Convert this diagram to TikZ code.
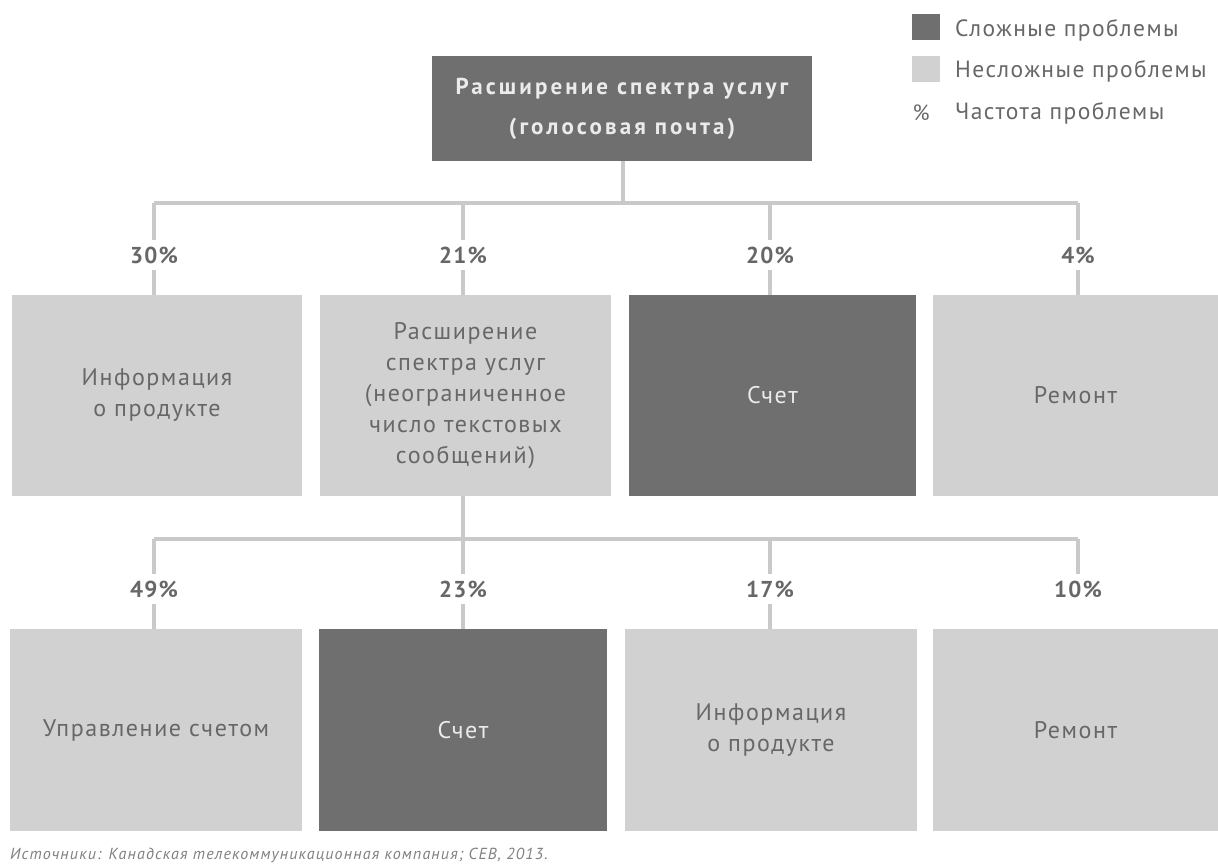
\documentclass[tikz,border=0pt]{standalone}
\usepackage{fontspec}
\setmainfont{PT Sans}
\newfontfamily\regfont[LetterSpace=6.5]{PT Sans}
\newfontfamily\legfont[LetterSpace=6]{PT Sans}
\newfontfamily\topfont[LetterSpace=13.5]{PT Sans}
\newfontfamily\pctfont[LetterSpace=5]{PT Sans}
\newfontfamily\footfont[LetterSpace=7.2]{PT Sans}
\definecolor{darkbox}{HTML}{6F6F6F}
\definecolor{lightbox}{HTML}{D1D1D1}
\definecolor{linecol}{HTML}{C9C9C9}
\definecolor{txtgray}{HTML}{676767}
\definecolor{txtlight}{HTML}{EBEBEB}
\definecolor{foot}{HTML}{808080}
\tikzset{
  hardbox/.style={fill=darkbox, draw=none, inner sep=0pt, align=center, text=txtlight, font=\regfont\fontsize{24}{31}\selectfont},
  easybox/.style={fill=lightbox, draw=none, inner sep=0pt, align=center, text=txtgray, font=\regfont\fontsize{24}{31}\selectfont},
  pct/.style={text=txtgray, font=\pctfont\bfseries\fontsize{23}{26}\selectfont, inner sep=0pt, minimum height=30pt},
  conn/.style={draw=linecol, line width=4pt},
  legtext/.style={anchor=west, text=txtgray, inner sep=0pt, font=\legfont\fontsize{23.5}{26}\selectfont},
}
\begin{document}
\begin{tikzpicture}[x=1pt,y=-1pt]
\useasboundingbox (0,0) rectangle (1218,867);
% legend
\node[fill=darkbox, minimum width=28pt, minimum height=26pt, inner sep=0pt] (lg1) at (926,27) {};
\node[fill=lightbox, minimum width=28pt, minimum height=26pt, inner sep=0pt] (lg2) at (926,69) {};
\node[text=txtgray, inner sep=0pt, font=\legfont\fontsize{22}{24}\selectfont] (lg3) at (921,113) {\%};
\node[legtext] (lt1) at (955,30) {Сложные проблемы};
\node[legtext] (lt2) at (955,71) {Несложные проблемы};
\node[legtext] (lt3) at (955,113) {Частота проблемы};
% top
\node[hardbox, minimum width=380pt, minimum height=105pt, font=\topfont\bfseries\fontsize{23}{40}\selectfont] (top) at (622,108.5) {Расширение спектра услуг\\(голосовая почта)};
% row 1
\node[easybox, minimum width=290pt, minimum height=201pt] (b1) at (157,395.5) {Информация\\о продукте};
\node[easybox, minimum width=291pt, minimum height=201pt] (b2) at (465.5,395.5) {Расширение\\спектра услуг\\(неограниченное\\число текстовых\\сообщений)};
\node[hardbox, minimum width=287pt, minimum height=201pt] (b3) at (772.5,395.5) {Счет};
\node[easybox, minimum width=285pt, minimum height=201pt] (b4) at (1075.5,395.5) {Ремонт};
% row 1 percents
\node[pct] (p1) at (154,255) {30\%};
\node[pct] (p2) at (463,255) {21\%};
\node[pct] (p3) at (770,255) {20\%};
\node[pct] (p4) at (1078,255) {4\%};
% row 2
\node[easybox, minimum width=292pt, minimum height=202pt] (c1) at (156,730) {Управление счетом};
\node[hardbox, minimum width=288pt, minimum height=202pt] (c2) at (463,730) {Счет};
\node[easybox, minimum width=292pt, minimum height=202pt] (c3) at (771,730) {Информация\\о продукте};
\node[easybox, minimum width=285pt, minimum height=202pt] (c4) at (1075.5,730) {Ремонт};
% row 2 percents
\node[pct] (q1) at (154,589) {49\%};
\node[pct] (q2) at (463,589) {23\%};
\node[pct] (q3) at (770,589) {17\%};
\node[pct] (q4) at (1078,589) {10\%};
% connectors level 1
\coordinate (j1) at (623,203);
\draw[conn] (top.south -| j1) -- (j1);
\draw[conn] (p1.north |- j1) -- (p4.north |- j1);
\foreach \p/\b in {p1/b1,p2/b2,p3/b3,p4/b4}{
  \draw[conn] (\p.north |- j1) -- (\p.north);
  \draw[conn] (\p.south) -- (\p.south |- \b.north);
}
% connectors level 2
\coordinate (j2) at (463,539);
\draw[conn] (b2.south -| j2) -- (j2);
\draw[conn] (q1.north |- j2) -- (q4.north |- j2);
\foreach \p in {q1,q2,q3,q4}{
  \draw[conn] (\p.north |- j2) -- (\p.north);
}
\foreach \p/\b in {q1/c1,q2/c2,q3/c3}{
  \draw[conn] (\p.south) -- (\p.south |- \b.north);
}
% footer
\node[anchor=west, inner sep=0pt, text=foot, font=\footfont\itshape\fontsize{16}{18}\selectfont] (src) at (10,855) {Источники: Канадская телекоммуникационная компания; CEB, 2013.};
\end{tikzpicture}
\end{document}
